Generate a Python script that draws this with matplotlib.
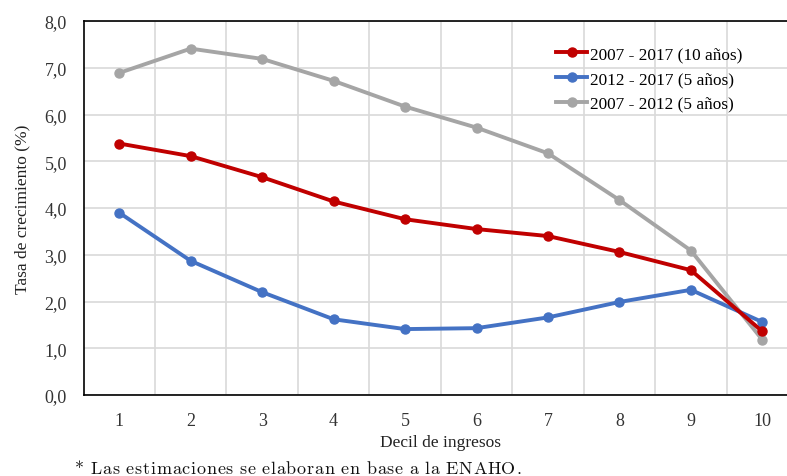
import matplotlib
matplotlib.use('Agg')
import matplotlib.pyplot as plt

deciles = [1, 2, 3, 4, 5, 6, 7, 8, 9, 10]
serie_2007_2017 = [5.38, 5.11, 4.66, 4.14, 3.76, 3.55, 3.40, 3.06, 2.67, 1.36]
serie_2012_2017 = [3.90, 2.87, 2.20, 1.62, 1.41, 1.43, 1.66, 1.99, 2.25, 1.56]
serie_2007_2012 = [6.89, 7.41, 7.19, 6.72, 6.17, 5.72, 5.17, 4.17, 3.09, 1.18]
etiquetas = ['2007 - 2017 (10 años)', '2012 - 2017 (5 años)', '2007 - 2012 (5 años)']
colores = ['#c00000', '#4472c4', '#a5a5a5']
nota = '* Las estimaciones se elaboran en base a la ENAHO.'

plt.rcParams['font.family'] = ['Liberation Serif', 'DejaVu Serif']

fig = plt.figure(figsize=(7.87, 4.77), dpi=100)
ax = fig.add_axes([0.1061, 0.1698, 0.908, 0.784])

# gris primero para que quede debajo
for serie, etq, col in zip([serie_2007_2012, serie_2012_2017, serie_2007_2017],
                           [etiquetas[2], etiquetas[1], etiquetas[0]],
                           [colores[2], colores[1], colores[0]]):
    ax.plot(deciles, serie, color=col, lw=2.8, marker='o', ms=6.5, label=etq)

ax.set_xlim(0.5, 10.5)
ax.set_ylim(0, 8)
ax.set_yticks(range(0, 9))
ax.set_yticklabels([f'{v},0' for v in range(0, 9)])
ax.set_xticks(deciles)
ax.set_xticks([d + 0.5 for d in deciles[:-1]], minor=True)
ax.tick_params(which='both', length=0, labelsize=13, pad=12, colors='#333333')
ax.tick_params(axis='y', pad=12)
ax.grid(True, axis='y', color='#d9d9d9', lw=1.2)
ax.grid(True, axis='x', which='minor', color='#d9d9d9', lw=1.2)
ax.set_axisbelow(True)
for s in ax.spines.values():
    s.set_color('black')
    s.set_linewidth(1.2)

ax.set_xlabel('Decil de ingresos', fontsize=12.5, labelpad=4, color='#222222')
ax.set_ylabel('Tasa de crecimiento (%)', fontsize=12.5, labelpad=10, color='#222222')

h, l = ax.get_legend_handles_labels()
orden = [2, 1, 0]
ax.legend([h[i] for i in orden], [l[i] for i in orden], loc='upper left',
          bbox_to_anchor=(0.645, 0.965), frameon=False, fontsize=12.4,
          handlelength=1.8, handletextpad=0.15, labelspacing=0.5,
          borderpad=0.2)

# nota al pie con espaciado entre letras
fig.canvas.draw()
rend = fig.canvas.get_renderer()
x = 75
for ch in nota:
    t = fig.text(x / 787, 1 - 462 / 477, ch, family='cmr10', fontsize=13,
                 color='#111111', va='top')
    if ch == ' ':
        ancho = 5.0
    else:
        ancho = t.get_window_extent(rend).width
    x += ancho + 0.75

fig.savefig('out.png', dpi=100)
